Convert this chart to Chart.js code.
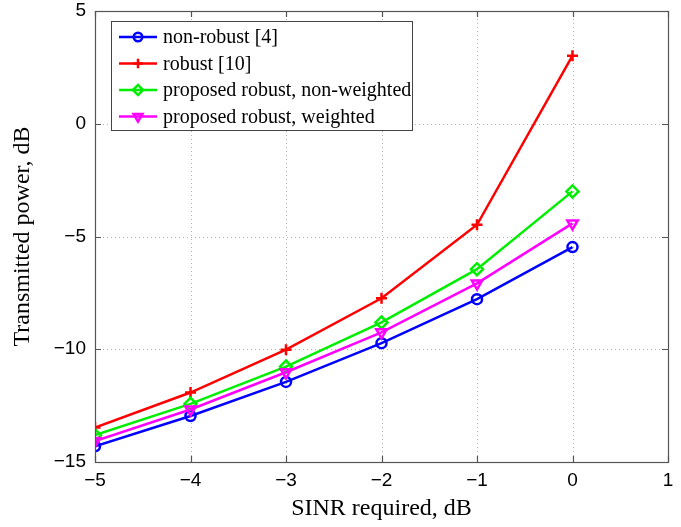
<!DOCTYPE html>
<html>
<head>
<meta charset="utf-8">
<script src="https://cdn.jsdelivr.net/npm/chart.js@4/dist/chart.umd.min.js"></script>
<style>
  html, body { margin: 0; padding: 0; background: #fff; }
  #wrap { width: 681px; height: 527px; }
</style>
</head>
<body>
<div id="wrap"><canvas id="c" width="681" height="527"></canvas></div>
<script>
// SINR requirement (dB) on the x axis
const sinrRequired = [-5, -4, -3, -2, -1, 0];

// Transmitted power (dB) for each beamformer
const nonRobust       = [-14.3, -12.96, -11.45, -9.73, -7.78, -5.47];
const robust          = [-13.47, -11.92, -10.02, -7.74, -4.48, 3.02];
const propNonWeighted = [-13.81, -12.42, -10.77, -8.81, -6.45, -3.0];
const propWeighted    = [-14.07, -12.67, -11.02, -9.25, -7.08, -4.42];

const seriesLabels = [
  'non-robust [4]',
  'robust [10]',
  'proposed robust, non-weighted',
  'proposed robust, weighted'
];

const xTicks = [-5, -4, -3, -2, -1, 0, 1];
const yTicks = [-15, -10, -5, 0, 5];

const pts = ys => sinrRequired.map((x, i) => ({ x, y: ys[i] }));
const minus = v => String(v).replace('-', '\u2212');

const styles = [
  { color: '#0000ff', pointStyle: 'circle',   radius: 5,   rotation: 0 },
  { color: '#ff0000', pointStyle: 'cross',    radius: 5.5, rotation: 0 },
  { color: '#00ee00', pointStyle: 'rectRot',  radius: 6,   rotation: 0 },
  { color: '#ff00ff', pointStyle: 'triangle', radius: 6,   rotation: 180 }
];
const values = [nonRobust, robust, propNonWeighted, propWeighted];

const datasets = values.map((v, i) => ({
  label: seriesLabels[i],
  data: pts(v),
  showLine: true,
  borderColor: styles[i].color,
  backgroundColor: 'rgba(0,0,0,0)',
  borderWidth: 2.5,
  pointStyle: styles[i].pointStyle,
  pointRadius: styles[i].radius,
  pointRotation: styles[i].rotation,
  pointBorderWidth: 2.5,
  pointBorderColor: styles[i].color,
  pointBackgroundColor: 'rgba(0,0,0,0)',
  order: 4 - i
}));

// Dotted grid, framed box with inward ticks, in the style of a classic plot window
const framePlugin = {
  id: 'frame',
  beforeDatasetsDraw(chart) {
    const { ctx, chartArea: a, scales: { x, y } } = chart;
    ctx.save();
    ctx.strokeStyle = '#b0b0b0';
    ctx.lineWidth = 1;
    ctx.setLineDash([1, 3]);
    xTicks.forEach(v => {
      const px = Math.round(x.getPixelForValue(v)) + 0.5;
      if (px <= a.left + 1 || px >= a.right - 1) return;
      ctx.beginPath(); ctx.moveTo(px, a.top); ctx.lineTo(px, a.bottom); ctx.stroke();
    });
    yTicks.forEach(v => {
      const py = Math.round(y.getPixelForValue(v)) + 0.5;
      if (py <= a.top + 1 || py >= a.bottom - 1) return;
      ctx.beginPath(); ctx.moveTo(a.left, py); ctx.lineTo(a.right, py); ctx.stroke();
    });
    ctx.restore();
  },
  afterDatasetsDraw(chart) {
    const { ctx, chartArea: a, scales: { x, y } } = chart;
    ctx.save();
    ctx.strokeStyle = '#555';
    ctx.lineWidth = 1.2;
    ctx.setLineDash([]);
    ctx.strokeRect(a.left + 0.5, a.top + 0.5, a.right - a.left, a.bottom - a.top);
    const t = 6;
    ctx.beginPath();
    xTicks.forEach(v => {
      const px = Math.round(x.getPixelForValue(v)) + 0.5;
      ctx.moveTo(px, a.bottom); ctx.lineTo(px, a.bottom - t);
      ctx.moveTo(px, a.top); ctx.lineTo(px, a.top + t);
    });
    yTicks.forEach(v => {
      const py = Math.round(y.getPixelForValue(v)) + 0.5;
      ctx.moveTo(a.left, py); ctx.lineTo(a.left + t, py);
      ctx.moveTo(a.right, py); ctx.lineTo(a.right - t, py);
    });
    ctx.stroke();
    ctx.restore();
  }
};

// Boxed legend in the upper-left corner of the plot area
const legendPlugin = {
  id: 'boxLegend',
  afterDraw(chart) {
    const { ctx, chartArea: a } = chart;
    const left = a.left + 16, top = a.top + 10;
    const w = 301, rowH = 26.5, h = 109;
    ctx.save();
    ctx.fillStyle = '#fff';
    ctx.fillRect(left, top, w, h);
    ctx.strokeStyle = '#444';
    ctx.lineWidth = 1;
    ctx.strokeRect(left + 0.5, top + 0.5, w, h);
    ctx.font = '20px "Liberation Serif", "Times New Roman", serif';
    ctx.textBaseline = 'middle';
    chart.data.datasets.forEach((ds, i) => {
      const cy = top + 16 + i * rowH;
      const x0 = left + 8, x1 = left + 46;
      ctx.strokeStyle = ds.borderColor;
      ctx.lineWidth = 2.5;
      ctx.beginPath(); ctx.moveTo(x0, cy); ctx.lineTo(x1, cy); ctx.stroke();
      ctx.fillStyle = 'rgba(0,0,0,0)';
      Chart.helpers.drawPoint(ctx, {
        pointStyle: ds.pointStyle,
        radius: ds.pointRadius * 0.85,
        rotation: ds.pointRotation,
        borderWidth: 2
      }, (x0 + x1) / 2, cy);
      ctx.fillStyle = '#000';
      ctx.fillText(ds.label, left + 52, cy + 1);
    });
    ctx.restore();
  }
};

new Chart(document.getElementById('c'), {
  type: 'scatter',
  data: { datasets },
  plugins: [framePlugin, legendPlugin],
  options: {
    responsive: false,
    animation: false,
    devicePixelRatio: 1,
    layout: { padding: { top: 11, right: 13, left: 0, bottom: 0 } },
    plugins: { legend: { display: false }, tooltip: { enabled: false } },
    scales: {
      x: {
        type: 'linear',
        min: -5, max: 1,
        afterBuildTicks: s => { s.ticks = xTicks.map(v => ({ value: v })); },
        afterFit: s => { s.height = 65; s.paddingLeft = 0; s.paddingRight = 0; },
        grid: { display: false, drawTicks: false },
        border: { display: false },
        ticks: {
          padding: 7,
          color: '#000',
          font: { family: '"Liberation Sans", Arial, sans-serif', size: 19 },
          callback: v => minus(v)
        },
        title: {
          display: true,
          text: 'SINR required, dB',
          color: '#000',
          font: { family: '"Liberation Serif", "Times New Roman", serif', size: 24 },
          padding: { top: 2, bottom: 4 }
        }
      },
      y: {
        type: 'linear',
        min: -15, max: 5,
        afterBuildTicks: s => { s.ticks = yTicks.map(v => ({ value: v })); },
        afterFit: s => { s.width = 95; s.paddingTop = 0; s.paddingBottom = 0; },
        grid: { display: false, drawTicks: false },
        border: { display: false },
        ticks: {
          padding: 9,
          color: '#000',
          font: { family: '"Liberation Sans", Arial, sans-serif', size: 19 },
          callback: v => minus(v)
        },
        title: {
          display: true,
          text: 'Transmitted power, dB',
          color: '#000',
          font: { family: '"Liberation Serif", "Times New Roman", serif', size: 24 },
          padding: { top: 8, bottom: 0 }
        }
      }
    }
  }
});
</script>
</body>
</html>
